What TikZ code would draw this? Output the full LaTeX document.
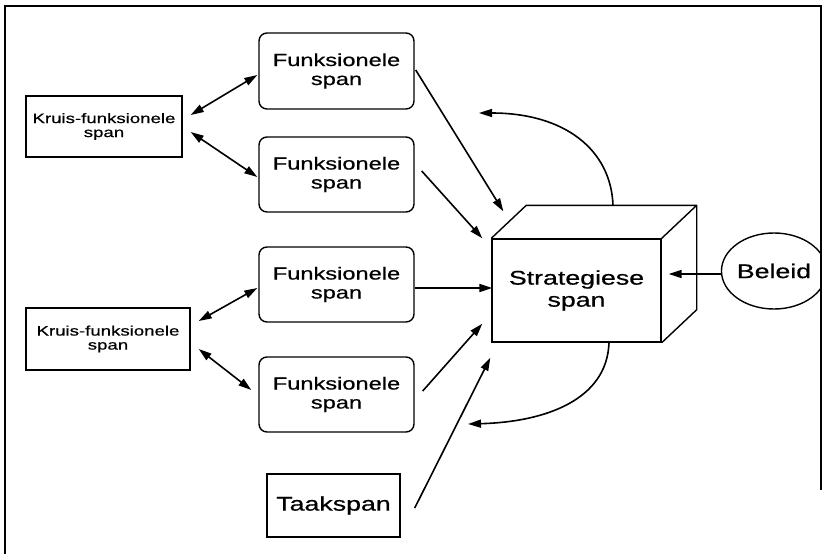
\documentclass[tikz,border=0pt]{standalone}
\usepackage{fontspec}
\setmainfont{Liberation Sans}[FakeStretch=1.35, FakeBold=0.6]
\usetikzlibrary{arrows.meta,shapes.geometric}

\tikzset{
  plainbox/.style={draw, line width=1.4pt, inner sep=0pt, align=center},
  crossbox/.style={plainbox, minimum width=156pt, minimum height=61pt,
    font=\fontsize{13.8}{14}\selectfont},
  funcbox/.style={plainbox, rounded corners=8pt, minimum width=155pt, minimum height=75pt,
    font=\fontsize{17.5}{19}\selectfont},
  bigtext/.style={font=\fontsize{19.8}{22}\selectfont},
  tip/.tip={Triangle[length=13pt,width=8pt]},
  link/.style={line width=1.6pt, -tip},
  duplex/.style={line width=1.6pt, tip-tip},
  frame/.style={line width=1.5pt}
}

\begin{document}
\begin{tikzpicture}[x=1pt, y=-1pt]
  \useasboundingbox (0,0) rectangle (822,554);

  % outer frame (open at the bottom)
  \draw[frame] (5,554) -- (5,6) -- (821,6) -- (821,490);

  % cross-functional teams
  \node[crossbox] (k1) at (104,126.5) {Kruis-funksionele\\span};
  \node[crossbox, minimum width=164pt, minimum height=62pt] (k2) at (108,339) {Kruis-funksionele\\span};

  % functional teams
  \node[funcbox, minimum height=76pt] (f1) at (336.5,71) {Funksionele\\span};
  \node[funcbox] (f2) at (336.5,174.5) {Funksionele\\span};
  \node[funcbox] (f3) at (336.5,284.5) {Funksionele\\span};
  \node[funcbox] (f4) at (336.5,394.5) {Funksionele\\span};

  % task team
  \node[plainbox, bigtext, minimum width=133pt, minimum height=63pt] (t) at (333.5,505.5) {Taakspan};

  % strategic team: front face of a box
  \node[plainbox, bigtext, minimum width=169pt, minimum height=103pt] (s) at (576.5,290.5) {Strategiese\\span};
  \draw[line width=1.4pt, line join=round]
    (s.north west) -- ([shift={(35,-33)}]s.north west) -- ([shift={(35,-33)}]s.north east)
    -- ([shift={(35,-33)}]s.south east) -- (s.south east)
    (s.north east) -- ([shift={(35,-33)}]s.north east);

  % policy
  \node[draw, line width=1.4pt, ellipse, inner sep=0pt, minimum width=86pt, minimum height=76pt,
        bigtext] (b) at (774,271) {Beleid};

  % two-way links between cross-functional and functional teams
  \draw[duplex] ([shift={(8,-11.5)}]k1.east) -- ([shift={(-1,4)}]f1.west);
  \draw[duplex] ([shift={(8,5.5)}]k1.east) -- ([shift={(-1,2.5)}]f2.west);
  \draw[duplex] ([shift={(8,-18)}]k2.east) -- ([shift={(-1,3.5)}]f3.west);
  \draw[duplex] ([shift={(8,10)}]k2.east) -- ([shift={(-7,-4.5)}]f4.west);

  % inputs to the strategic team
  \draw[link] ([shift={(1,-1)}]f1.east) -- ([shift={(12,-27)}]s.north west);
  \draw[link] ([shift={(7,-3.5)}]f2.east) -- ([shift={(-9,0)}]s.north west);
  \draw[link] ([shift={(0,3.5)}]f3.east) -- ([shift={(1,-2.5)}]s.west);
  \draw[link] ([shift={(8,-3.5)}]f4.east) -- ([shift={(-9,-19)}]s.south west);
  \draw[link] ([shift={(14,2.5)}]t.east) -- ([shift={(-1,15)}]s.south west);
  \draw[link] ([shift={(0,3)}]b.west) -- ([shift={(7,-16.5)}]s.east);

  % feedback loops
  \coordinate (fbtop) at (479,113);
  \coordinate (fbbot) at (468,424);
  \draw[link] ([shift={(36.5,-33)}]s.north) .. controls (611,150) and (565,113) .. (fbtop);
  \draw[link] ([shift={(32.5,0)}]s.south) .. controls (607,400) and (545,422) .. (fbbot);
\end{tikzpicture}
\end{document}
